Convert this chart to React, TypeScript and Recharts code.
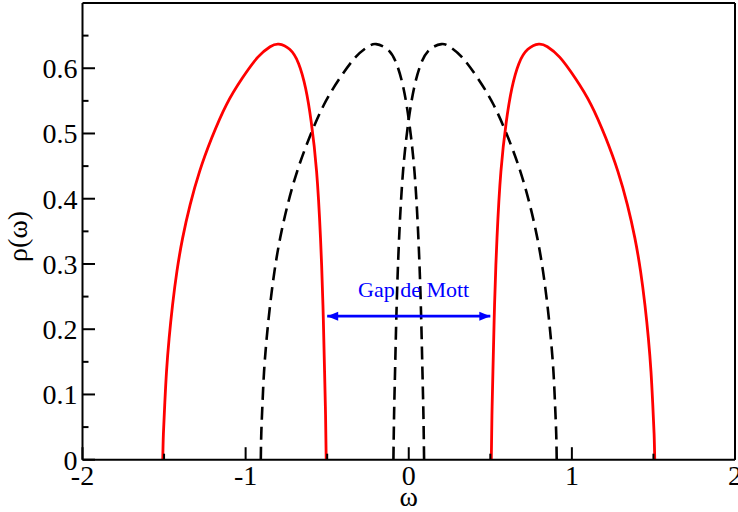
import { Line, LineChart, ReferenceDot, XAxis, YAxis } from 'recharts'

const SERIF =
  "'Liberation Serif', 'Times New Roman', Times, Tinos, 'Nimbus Roman', 'Noto Serif', 'DejaVu Serif', FreeSerif, serif"

// axis ticks: every tick gets a mark, only the labelled ones get a number
const W_TICKS = [-2, -1.5, -1, -0.5, 0, 0.5, 1, 1.5, 2]
const W_LABELS = [-2, -1, 0, 1, 2]
const RHO_TICKS = [0, 0.05, 0.1, 0.15, 0.2, 0.25, 0.3, 0.35, 0.4, 0.45, 0.5, 0.55, 0.6, 0.65]
const RHO_LABELS = [0, 0.1, 0.2, 0.3, 0.4, 0.5, 0.6]

// lower Hubbard band (solid red)
const lowerBandW = [
  -1.508, -1.504, -1.496, -1.485, -1.469, -1.448, -1.421, -1.386, -1.34, -1.282, -1.208, -1.118, -1.02,
  -0.925, -0.85, -0.797, -0.73, -0.675, -0.632, -0.598, -0.565, -0.541, -0.526, -0.516, -0.51, -0.506,
]
const lowerBandRho = [
  0, 0.04, 0.084, 0.135, 0.186, 0.237, 0.289, 0.34, 0.391, 0.442, 0.493, 0.544, 0.585,
  0.617, 0.633, 0.637, 0.629, 0.607, 0.569, 0.518, 0.442, 0.34, 0.237, 0.135, 0.068, 0,
]

// upper Hubbard band (solid red)
const upperBandW = [
  0.506, 0.51, 0.516, 0.526, 0.541, 0.565, 0.598, 0.632, 0.675, 0.73, 0.797, 0.85, 0.925,
  1.02, 1.118, 1.208, 1.282, 1.34, 1.386, 1.421, 1.448, 1.469, 1.485, 1.496, 1.504, 1.508,
]
const upperBandRho = [
  0, 0.068, 0.135, 0.237, 0.34, 0.442, 0.518, 0.569, 0.607, 0.629, 0.637, 0.633, 0.617,
  0.585, 0.544, 0.493, 0.442, 0.391, 0.34, 0.289, 0.237, 0.186, 0.135, 0.084, 0.04, 0,
]

// left dashed band
const leftDashW = [
  -0.907, -0.904, -0.897, -0.887, -0.871, -0.85, -0.823, -0.788, -0.742, -0.684, -0.61, -0.52, -0.422,
  -0.326, -0.25, -0.2, -0.13, -0.075, -0.032, 0.002, 0.035, 0.059, 0.074, 0.084, 0.09, 0.094,
]
const leftDashRho = [
  0, 0.04, 0.084, 0.135, 0.186, 0.237, 0.289, 0.34, 0.391, 0.442, 0.493, 0.544, 0.585,
  0.617, 0.633, 0.637, 0.629, 0.607, 0.569, 0.518, 0.442, 0.34, 0.237, 0.135, 0.068, 0,
]

// right dashed band
const rightDashW = [
  -0.094, -0.09, -0.084, -0.074, -0.059, -0.035, -0.002, 0.032, 0.075, 0.13, 0.2, 0.25, 0.326,
  0.422, 0.52, 0.61, 0.684, 0.742, 0.788, 0.823, 0.85, 0.871, 0.887, 0.897, 0.904, 0.907,
]
const rightDashRho = [
  0, 0.068, 0.135, 0.237, 0.34, 0.442, 0.518, 0.569, 0.607, 0.629, 0.637, 0.633, 0.617,
  0.585, 0.544, 0.493, 0.442, 0.391, 0.34, 0.289, 0.237, 0.186, 0.135, 0.084, 0.04, 0,
]

// Mott gap arrow
const gapW = [-0.5, 0.5]
const gapRho = [0.22, 0.22]
const GAP_TEXT = 'Gap de Mott'
const GAP_TEXT_W = 0.03

const toPoints = (w: number[], rho: number[]) => w.map((x, i) => ({ w: x, rho: rho[i] }))

const MAJOR_LEN = 12.5
const MINOR_LEN = 6
const isMajor = (v: number, majors: number[]) => majors.some((m) => Math.abs(m - v) < 1e-9)

const textStyle = { fontFamily: SERIF }

const BottomTick = ({ x, y, payload }: any) => {
  const major = isMajor(payload.value, W_LABELS)
  return (
    <g>
      <line x1={x} y1={y} x2={x} y2={y - (major ? MAJOR_LEN : MINOR_LEN)} stroke="#000" strokeWidth={2} />
      {major && (
        <text x={x} y={y + 25.5} textAnchor="middle" style={textStyle} fontSize={28} fill="#000">
          {String(payload.value)}
        </text>
      )}
    </g>
  )
}

const TopTick = ({ x, y, payload }: any) => {
  const major = isMajor(payload.value, W_LABELS)
  return <line x1={x} y1={y} x2={x} y2={y + (major ? MAJOR_LEN : MINOR_LEN)} stroke="#000" strokeWidth={2} />
}

const LeftTick = ({ x, y, payload }: any) => {
  const major = isMajor(payload.value, RHO_LABELS)
  return (
    <g>
      <line x1={x} y1={y} x2={x + (major ? MAJOR_LEN : MINOR_LEN)} y2={y} stroke="#000" strokeWidth={2} />
      {major && (
        <text x={x - 5} y={y + 10} textAnchor="end" style={textStyle} fontSize={28} fill="#000">
          {String(payload.value)}
        </text>
      )}
    </g>
  )
}

const RightTick = ({ x, y, payload }: any) => {
  const major = isMajor(payload.value, RHO_LABELS)
  return <line x1={x} y1={y} x2={x - (major ? MAJOR_LEN : MINOR_LEN)} y2={y} stroke="#000" strokeWidth={2} />
}

const ArrowHead = ({ cx, cy, index }: any) => {
  const dir = index === 0 ? 1 : -1
  return (
    <path
      key={`head-${index}`}
      d={`M${cx},${cy} L${cx + dir * 11},${cy - 4.5} L${cx + dir * 11},${cy + 4.5} Z`}
      fill="#0000ff"
    />
  )
}

const axisLine = { stroke: '#000', strokeWidth: 2 }

export default function App() {
  return (
    <div style={{ position: 'absolute', left: 0, top: 0, width: 738, height: 512, background: '#fff' }}>
      <LineChart width={738} height={512} margin={{ top: 2, right: 2, bottom: 0, left: 0 }}>
        <XAxis
          type="number"
          dataKey="w"
          domain={[-2, 2]}
          ticks={W_TICKS}
          interval={0}
          height={52.3}
          tickSize={0}
          tickMargin={0}
          tickLine={false}
          axisLine={axisLine}
          tick={BottomTick}
          label={({ viewBox }: any) => (
            <text
              x={viewBox.x + viewBox.width / 2}
              y={viewBox.y + 46}
              textAnchor="middle"
              style={textStyle}
              fontSize={28}
              fill="#000"
            >
              ω
            </text>
          )}
        />
        <XAxis
          xAxisId="top"
          orientation="top"
          type="number"
          domain={[-2, 2]}
          ticks={W_TICKS}
          interval={0}
          height={1}
          tickSize={0}
          tickMargin={0}
          tickLine={false}
          axisLine={axisLine}
          tick={TopTick}
        />
        <YAxis
          type="number"
          domain={[0, 0.7]}
          ticks={RHO_TICKS}
          interval={0}
          width={82.5}
          tickSize={0}
          tickMargin={0}
          tickLine={false}
          axisLine={axisLine}
          tick={LeftTick}
          label={({ viewBox }: any) => {
            const cx = viewBox.x + 27
            const cy = viewBox.y + viewBox.height / 2 + 5
            return (
              <text
                x={cx}
                y={cy}
                transform={`rotate(-90, ${cx}, ${cy})`}
                textAnchor="middle"
                style={textStyle}
                fontSize={28}
                fill="#000"
              >
                ρ(ω)
              </text>
            )
          }}
        />
        <YAxis
          yAxisId="right"
          orientation="right"
          type="number"
          domain={[0, 0.7]}
          ticks={RHO_TICKS}
          interval={0}
          width={1}
          tickSize={0}
          tickMargin={0}
          tickLine={false}
          axisLine={axisLine}
          tick={RightTick}
        />
        <Line
          data={toPoints(leftDashW, leftDashRho)}
          dataKey="rho"
          type="natural"
          stroke="#000"
          strokeWidth={2.6}
          strokeDasharray="13 7"
          dot={false}
          activeDot={false}
          isAnimationActive={false}
        />
        <Line
          data={toPoints(rightDashW, rightDashRho)}
          dataKey="rho"
          type="natural"
          stroke="#000"
          strokeWidth={2.6}
          strokeDasharray="13 7"
          dot={false}
          activeDot={false}
          isAnimationActive={false}
        />
        <Line
          data={toPoints(lowerBandW, lowerBandRho)}
          dataKey="rho"
          type="natural"
          stroke="#ff0000"
          strokeWidth={2.8}
          dot={false}
          activeDot={false}
          isAnimationActive={false}
        />
        <Line
          data={toPoints(upperBandW, upperBandRho)}
          dataKey="rho"
          type="natural"
          stroke="#ff0000"
          strokeWidth={2.8}
          dot={false}
          activeDot={false}
          isAnimationActive={false}
        />
        <Line
          data={toPoints(gapW, gapRho)}
          dataKey="rho"
          type="linear"
          stroke="#0000ff"
          strokeWidth={2.6}
          dot={ArrowHead}
          activeDot={false}
          isAnimationActive={false}
        />
        <ReferenceDot
          x={GAP_TEXT_W}
          y={gapRho[0]}
          r={0}
          shape={({ cx, cy }: any) => (
            <text x={cx} y={cy - 19} textAnchor="middle" style={textStyle} fontSize={22} fill="#0000ff">
              {GAP_TEXT}
            </text>
          )}
        />
      </LineChart>
    </div>
  )
}
